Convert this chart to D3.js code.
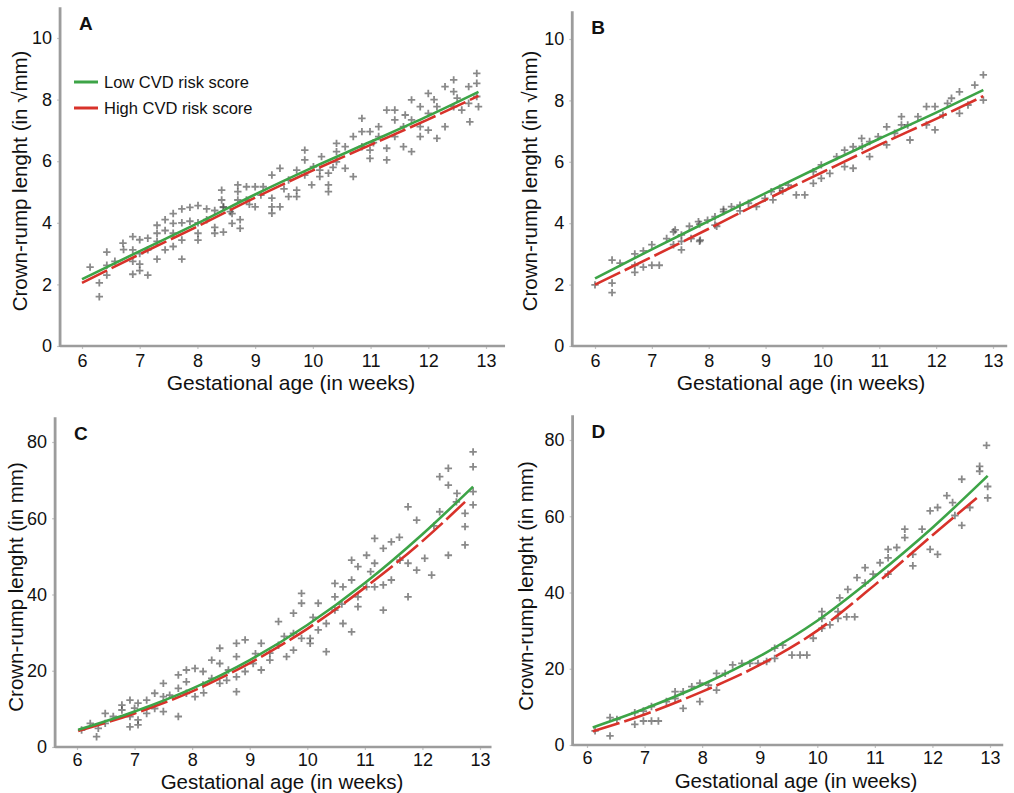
<!DOCTYPE html>
<html><head><meta charset="utf-8">
<script src="https://cdn.jsdelivr.net/npm/d3@7"></script>
<style>body{margin:0;background:#fff}svg{display:block}</style>
</head><body>
<svg id="chart" width="1014" height="793"></svg>
<script>
// ---- DATA ----
const xTicks = [6,7,8,9,10,11,12,13];
const yTicksSqrt = [0,2,4,6,8,10];
const yTicksMm = [0,20,40,60,80];
const panelLabels = ["A","B","C","D"];
const legendLabels = ["Low CVD risk score","High CVD risk score"];
const xTitle = "Gestational age (in weeks)";
const yTitles = ["Crown-rump lenght (in √mm)","Crown-rump lenght (in √mm)","Crown-rump lenght (in mm)","Crown-rump lenght (in mm)"];

// fitted curves [week, value]
const lowA  = [[6,2.17],[7,3.08],[8,3.98],[9,4.92],[10,5.8],[11,6.63],[12,7.47],[12.87,8.25]];
const highA = [[6,2.05],[7,2.98],[8,3.88],[9,4.82],[10,5.7],[11,6.53],[12,7.36],[12.87,8.12]];
const lowB  = [[6,2.2],[7,3.15],[8,4.07],[9,4.98],[10,5.88],[11,6.75],[12,7.6],[12.83,8.34]];
const highB = [[6,2.0],[7,2.9],[8,3.82],[9,4.76],[10,5.66],[11,6.55],[12,7.4],[12.83,8.14]];
const lowC  = [[6.02,4.5],[7,9.3],[8,15.3],[9,22.8],[10,32],[11,43],[12,55.8],[12.88,68.3]];
const highC = [[6.02,4.2],[7,8.8],[8,14.6],[9,22],[10,31],[11,41.8],[12,54],[12.74,64.3]];
const lowD  = [[6.1,4.6],[7,9.5],[8,15.8],[9,23.3],[10,32.6],[11,44.2],[12,57.0],[12.96,70.6]];
const highD = [[6.1,3.6],[7,8.0],[8,14.0],[9,21.0],[10,30.0],[11,42.0],[12,55.0],[12.77,64.8]];

// observations [week, value]
const pointsA = [[6.14,2.56],[6.3,2.05],[6.3,1.6],[6.43,3.05],[6.43,2.62],[6.43,2.3],[6.57,2.75],[6.71,3.34],[6.72,3.13],[6.88,3.55],[6.88,3.12],[6.88,2.75],[6.88,2.33],[7.0,3.45],[7.0,3.0],[7.0,2.66],[7.0,2.45],[7.14,3.5],[7.14,3.12],[7.14,2.3],[7.3,3.92],[7.3,3.66],[7.3,3.4],[7.3,2.82],[7.44,4.1],[7.44,3.75],[7.44,3.12],[7.58,4.3],[7.58,3.98],[7.58,3.66],[7.58,3.23],[7.73,4.45],[7.73,4.0],[7.73,3.44],[7.73,2.82],[7.87,4.5],[7.87,4.05],[8.01,4.56],[8.01,4.0],[8.01,3.66],[8.01,3.44],[8.16,4.45],[8.16,4.1],[8.3,4.4],[8.3,3.85],[8.3,3.66],[8.45,4.5],[8.45,3.7],[8.6,4.3],[8.6,3.98],[8.74,3.82],[8.74,4.1],[8.42,5.06],[8.42,4.74],[8.45,4.52],[8.57,4.36],[8.7,5.23],[8.7,5.01],[8.7,4.74],[8.85,5.17],[8.85,4.74],[9.0,5.17],[9.0,4.52],[9.14,5.17],[9.29,5.55],[9.29,4.8],[9.29,4.52],[9.29,4.31],[9.43,5.77],[9.43,4.52],[9.58,5.39],[9.58,4.85],[9.72,5.71],[9.72,5.06],[9.72,4.85],[9.86,6.36],[9.86,6.04],[9.86,5.55],[9.98,5.23],[10.01,5.82],[10.12,5.71],[10.12,5.5],[10.15,6.15],[10.27,5.61],[10.27,5.23],[10.27,5.01],[10.41,6.58],[10.41,6.31],[10.41,5.98],[10.56,6.47],[10.56,5.77],[10.7,5.5],[10.7,6.8],[10.85,7.39],[10.85,6.96],[10.85,6.47],[10.99,6.36],[10.99,6.09],[10.99,6.96],[11.14,7.12],[11.14,6.8],[11.28,7.66],[11.28,6.42],[11.28,6.04],[11.42,7.66],[11.42,7.34],[11.42,6.8],[11.57,7.12],[11.57,6.47],[11.71,7.99],[11.71,7.34],[11.71,6.31],[11.86,7.77],[11.86,7.12],[11.86,6.8],[12.0,8.2],[12.0,7.55],[12.0,7.01],[12.15,7.77],[12.15,6.74],[12.29,8.42],[12.29,7.12],[12.44,8.64],[12.44,8.26],[12.44,7.77],[12.58,7.66],[12.7,8.42],[12.7,7.88],[12.72,7.28],[12.84,8.85],[12.84,8.53],[12.84,8.1],[12.87,7.77],[9.1,4.9],[8.9,4.6],[9.5,5.1],[10.35,5.8],[11.05,6.6],[11.6,7.5],[12.1,8.0],[12.5,8.05]];

const pointsB = [[6.0,1.99],[6.3,2.8],[6.3,2.05],[6.3,1.74],[6.44,2.7],[6.7,3.0],[6.7,2.63],[6.7,2.4],[6.85,3.1],[6.85,2.57],[7.0,3.3],[7.0,2.63],[7.13,2.63],[7.26,3.5],[7.38,3.72],[7.38,3.3],[7.52,3.41],[7.52,3.13],[7.66,3.9],[7.69,3.5],[7.84,3.97],[7.84,3.41],[7.98,4.1],[8.14,3.9],[8.26,4.45],[7.82,4.05],[7.85,3.45],[8.11,4.21],[8.11,3.94],[8.26,4.38],[8.4,4.54],[8.55,4.59],[8.7,4.65],[8.84,4.54],[8.99,4.81],[9.1,5.03],[9.13,4.76],[9.25,5.14],[9.4,5.24],[9.54,4.92],[9.69,4.92],[9.84,5.68],[9.84,5.3],[9.98,5.9],[9.98,5.46],[10.13,5.62],[10.25,6.17],[10.39,6.38],[10.39,5.84],[10.54,6.49],[10.54,5.79],[10.69,6.76],[10.83,6.66],[10.83,6.17],[10.98,6.82],[11.13,7.14],[11.13,6.55],[11.27,6.93],[11.39,7.47],[11.39,7.2],[11.54,6.71],[11.68,7.47],[11.83,7.8],[11.83,7.2],[11.98,7.8],[11.98,7.04],[12.12,7.52],[12.27,8.07],[12.41,8.28],[12.41,7.58],[12.56,7.85],[12.68,8.5],[12.83,8.83],[12.83,8.01],[7.41,3.78],[7.52,3.62],[8.55,4.4],[9.3,5.05],[10.7,6.5],[11.5,7.2],[12.2,7.9]];

const pointsC = [[6.08,4.46],[6.23,6.2],[6.34,2.7],[6.37,4.9],[6.49,8.8],[6.49,6.2],[6.63,8.0],[6.78,11.0],[6.78,9.7],[6.92,12.3],[6.92,8.0],[6.92,5.3],[7.06,11.5],[7.06,7.1],[7.06,5.8],[7.21,12.3],[7.21,8.8],[7.35,14.1],[7.35,10.1],[7.5,16.7],[7.5,13.2],[7.5,9.3],[7.61,13.6],[7.76,18.9],[7.76,15.4],[7.76,8.0],[7.9,20.2],[7.9,17.1],[7.9,14.1],[8.05,20.6],[8.05,13.2],[8.19,19.8],[8.19,16.3],[8.34,22.8],[8.34,18.0],[8.48,25.9],[8.48,21.9],[8.48,16.7],[8.63,20.2],[8.77,27.2],[8.77,23.7],[8.77,18.4],[8.77,14.5],[8.92,28.1],[8.92,19.8],[9.06,21.9],[9.2,27.2],[9.2,20.2],[9.35,22.8],[9.35,24.6],[9.5,32.9],[9.5,26.7],[9.64,23.7],[9.76,35.1],[9.76,29.8],[9.76,25.4],[9.9,40.3],[9.9,37.7],[9.9,28.5],[10.05,27.2],[10.05,28.5],[10.19,37.7],[10.19,30.7],[10.33,25.0],[10.33,32.4],[10.48,42.9],[10.48,39.4],[10.48,35.9],[10.62,42.0],[10.62,32.4],[10.77,30.2],[10.77,49.0],[10.77,43.8],[10.88,47.3],[10.88,39.4],[10.88,36.8],[11.03,50.3],[11.03,42.0],[11.17,54.7],[11.17,48.2],[11.17,42.0],[11.32,52.1],[11.32,42.5],[11.32,35.9],[11.46,53.8],[11.46,43.8],[11.61,49.0],[11.75,63.0],[11.75,48.2],[11.75,39.4],[11.9,59.5],[11.9,46.4],[12.04,49.5],[12.16,45.1],[12.3,70.9],[12.3,61.7],[12.45,73.1],[12.45,68.7],[12.45,50.3],[12.59,64.3],[12.74,61.3],[12.74,57.8],[12.74,53.0],[12.88,77.4],[12.88,73.5],[12.88,67.0],[12.88,63.5],[7.0,10.2],[8.2,14.2],[8.6,17.5],[9.1,24.5],[9.6,29.0],[10.1,34.0],[10.6,37.5],[11.1,46.0],[11.6,55.0],[12.2,58.0],[12.6,66.5]];

const pointsD = [[6.14,3.7],[6.4,7.2],[6.4,2.4],[6.52,6.7],[6.83,8.5],[6.83,5.4],[6.98,8.9],[6.98,6.3],[7.12,10.1],[7.12,6.3],[7.24,6.3],[7.38,11.4],[7.53,14.0],[7.53,12.2],[7.67,14.0],[7.67,9.6],[7.82,15.3],[7.96,16.2],[7.96,11.4],[8.11,15.7],[8.25,14.4],[8.25,18.8],[8.4,18.8],[8.53,21.0],[8.69,21.4],[8.83,21.4],[8.97,21.4],[9.12,21.9],[9.26,25.4],[9.26,22.7],[9.4,26.2],[9.56,23.6],[9.7,23.6],[9.82,23.6],[9.93,28.0],[10.08,35.0],[10.08,33.2],[10.08,30.6],[10.22,31.5],[10.36,35.0],[10.36,33.2],[10.51,33.6],[10.65,33.6],[10.39,38.6],[10.53,40.8],[10.69,43.9],[10.83,46.5],[10.83,42.5],[10.97,44.8],[11.09,47.8],[11.23,51.3],[11.23,49.1],[11.23,44.8],[11.38,51.8],[11.52,56.6],[11.52,54.4],[11.66,47.0],[11.66,50.0],[11.82,56.6],[11.96,61.4],[11.96,51.3],[12.09,62.3],[12.09,50.0],[12.25,65.4],[12.35,63.6],[12.39,60.2],[12.51,69.7],[12.51,57.6],[12.65,62.3],[12.82,73.1],[12.82,71.8],[12.94,78.6],[12.96,67.8],[12.96,64.8]];

// ---- LAYOUT ----
const panels = [
  {pts:pointsA, low:lowA, high:highA, yTicks:yTicksSqrt, yMax:10, xr:[82,486], yr:[346,38], xExt:[5.62,13.33], yTop:11.0, yTitleX:20, yTitleC:181, xTitleC:291, pad:5, titleOff:44, tFont:21},
  {pts:pointsB, low:lowB, high:highB, yTicks:yTicksSqrt, yMax:10, xr:[595,993], yr:[346,39], xExt:[5.6,13.25], yTop:10.9, yTitleX:530, yTitleC:181, xTitleC:801, pad:5, titleOff:44, tFont:21},
  {pts:pointsC, low:lowC, high:highC, yTicks:yTicksMm, yMax:80, xr:[77,480], yr:[747,442], xExt:[5.62,13.2], yTop:86.5, yTitleX:16, yTitleC:587, xTitleC:282, pad:3.5, titleOff:42, tFont:20.5},
  {pts:pointsD, low:lowD, high:highD, yTicks:yTicksMm, yMax:80, xr:[587,990], yr:[745,440], xExt:[5.75,13.23], yTop:86.5, yTitleX:526, yTitleC:586, xTitleC:796, pad:3.5, titleOff:43, tFont:20.5}
];

const svg = d3.select("#chart");
const FONT = "'Liberation Sans', Arial, sans-serif";
const GREEN = "#3da447", RED = "#d8322a", AXIS = "#9c9c9c";

panels.forEach((p,i)=>{
  const x = d3.scaleLinear().domain([6,13]).range(p.xr);
  const y = d3.scaleLinear().domain([0,p.yMax]).range(p.yr);
  const g = svg.append("g");

  // axes ticks and labels
  const xa = g.append("g").attr("transform",`translate(0,${y(0)})`)
    .call(d3.axisBottom(x).tickValues(xTicks).tickSize(3).tickPadding(p.pad).tickFormat(d3.format("d")));
  const ya = g.append("g").attr("transform",`translate(${x(p.xExt[0])},0)`)
    .call(d3.axisLeft(y).tickValues(p.yTicks).tickSize(3).tickPadding(5).tickFormat(d3.format("d")));
  [xa,ya].forEach(a=>{
    a.select(".domain").remove();
    a.selectAll(".tick line").attr("stroke","#c4c4c4").attr("stroke-width",1.2);
    a.selectAll(".tick text").attr("fill","#111").style("font-family",FONT).style("font-size","18px");
  });

  // axis spines
  g.append("line").attr("x1",x(p.xExt[0])).attr("x2",x(p.xExt[0]))
    .attr("y1",y(p.yTop)).attr("y2",y(0)+1).attr("stroke",AXIS).attr("stroke-width",2.8);
  g.append("line").attr("x1",x(p.xExt[0])).attr("x2",x(p.xExt[1]))
    .attr("y1",y(0)).attr("y2",y(0)).attr("stroke",AXIS).attr("stroke-width",2.3);

  // points as plus markers
  const s = 3.7;
  g.append("g").selectAll("path").data(p.pts).join("path")
    .attr("d",d=>{const cx=x(d[0]), cy=y(d[1]); return `M${cx-s},${cy}H${cx+s}M${cx},${cy-s}V${cy+s}`;})
    .attr("stroke","#404040").attr("stroke-opacity",0.62).attr("stroke-width",1.8).attr("fill","none");

  // fitted curves
  const line = d3.line().x(d=>x(d[0])).y(d=>y(d[1])).curve(d3.curveMonotoneX);
  g.append("path").datum(p.high).attr("d",line).attr("fill","none")
    .attr("stroke",RED).attr("stroke-width",2.6).attr("stroke-dasharray","28,5");
  g.append("path").datum(p.low).attr("d",line).attr("fill","none")
    .attr("stroke",GREEN).attr("stroke-width",2.6);

  // titles
  g.append("text").attr("x",p.xTitleC).attr("y",y(0)+p.titleOff)
    .attr("text-anchor","middle").style("font-family",FONT).style("font-size",p.tFont+"px").attr("fill","#111")
    .text(xTitle);
  g.append("text").attr("transform",`translate(${p.yTitleX},${p.yTitleC}) rotate(-90)`)
    .attr("text-anchor","middle").attr("dy","0.35em").style("font-family",FONT).style("font-size","20.5px").attr("fill","#111")
    .text(yTitles[i]);
  // panel label
  g.append("text").attr("x",x(p.xExt[0])+19).attr("y",y(p.yTop)+23)
    .style("font-family",FONT).style("font-size","19px").style("font-weight","bold").attr("fill","#111")
    .text(panelLabels[i]);

  if(i===0){
    const lg = g.append("g");
    const cols = [GREEN, RED];
    legendLabels.forEach((t,k)=>{
      const ly = 82 + k*26;
      lg.append("line").attr("x1",74).attr("x2",98).attr("y1",ly).attr("y2",ly)
        .attr("stroke",cols[k]).attr("stroke-width",3);
      lg.append("text").attr("x",104).attr("y",ly).attr("dy","0.35em")
        .style("font-family",FONT).style("font-size","16.5px").attr("fill","#111").text(t);
    });
  }
});
</script>
</body></html>
